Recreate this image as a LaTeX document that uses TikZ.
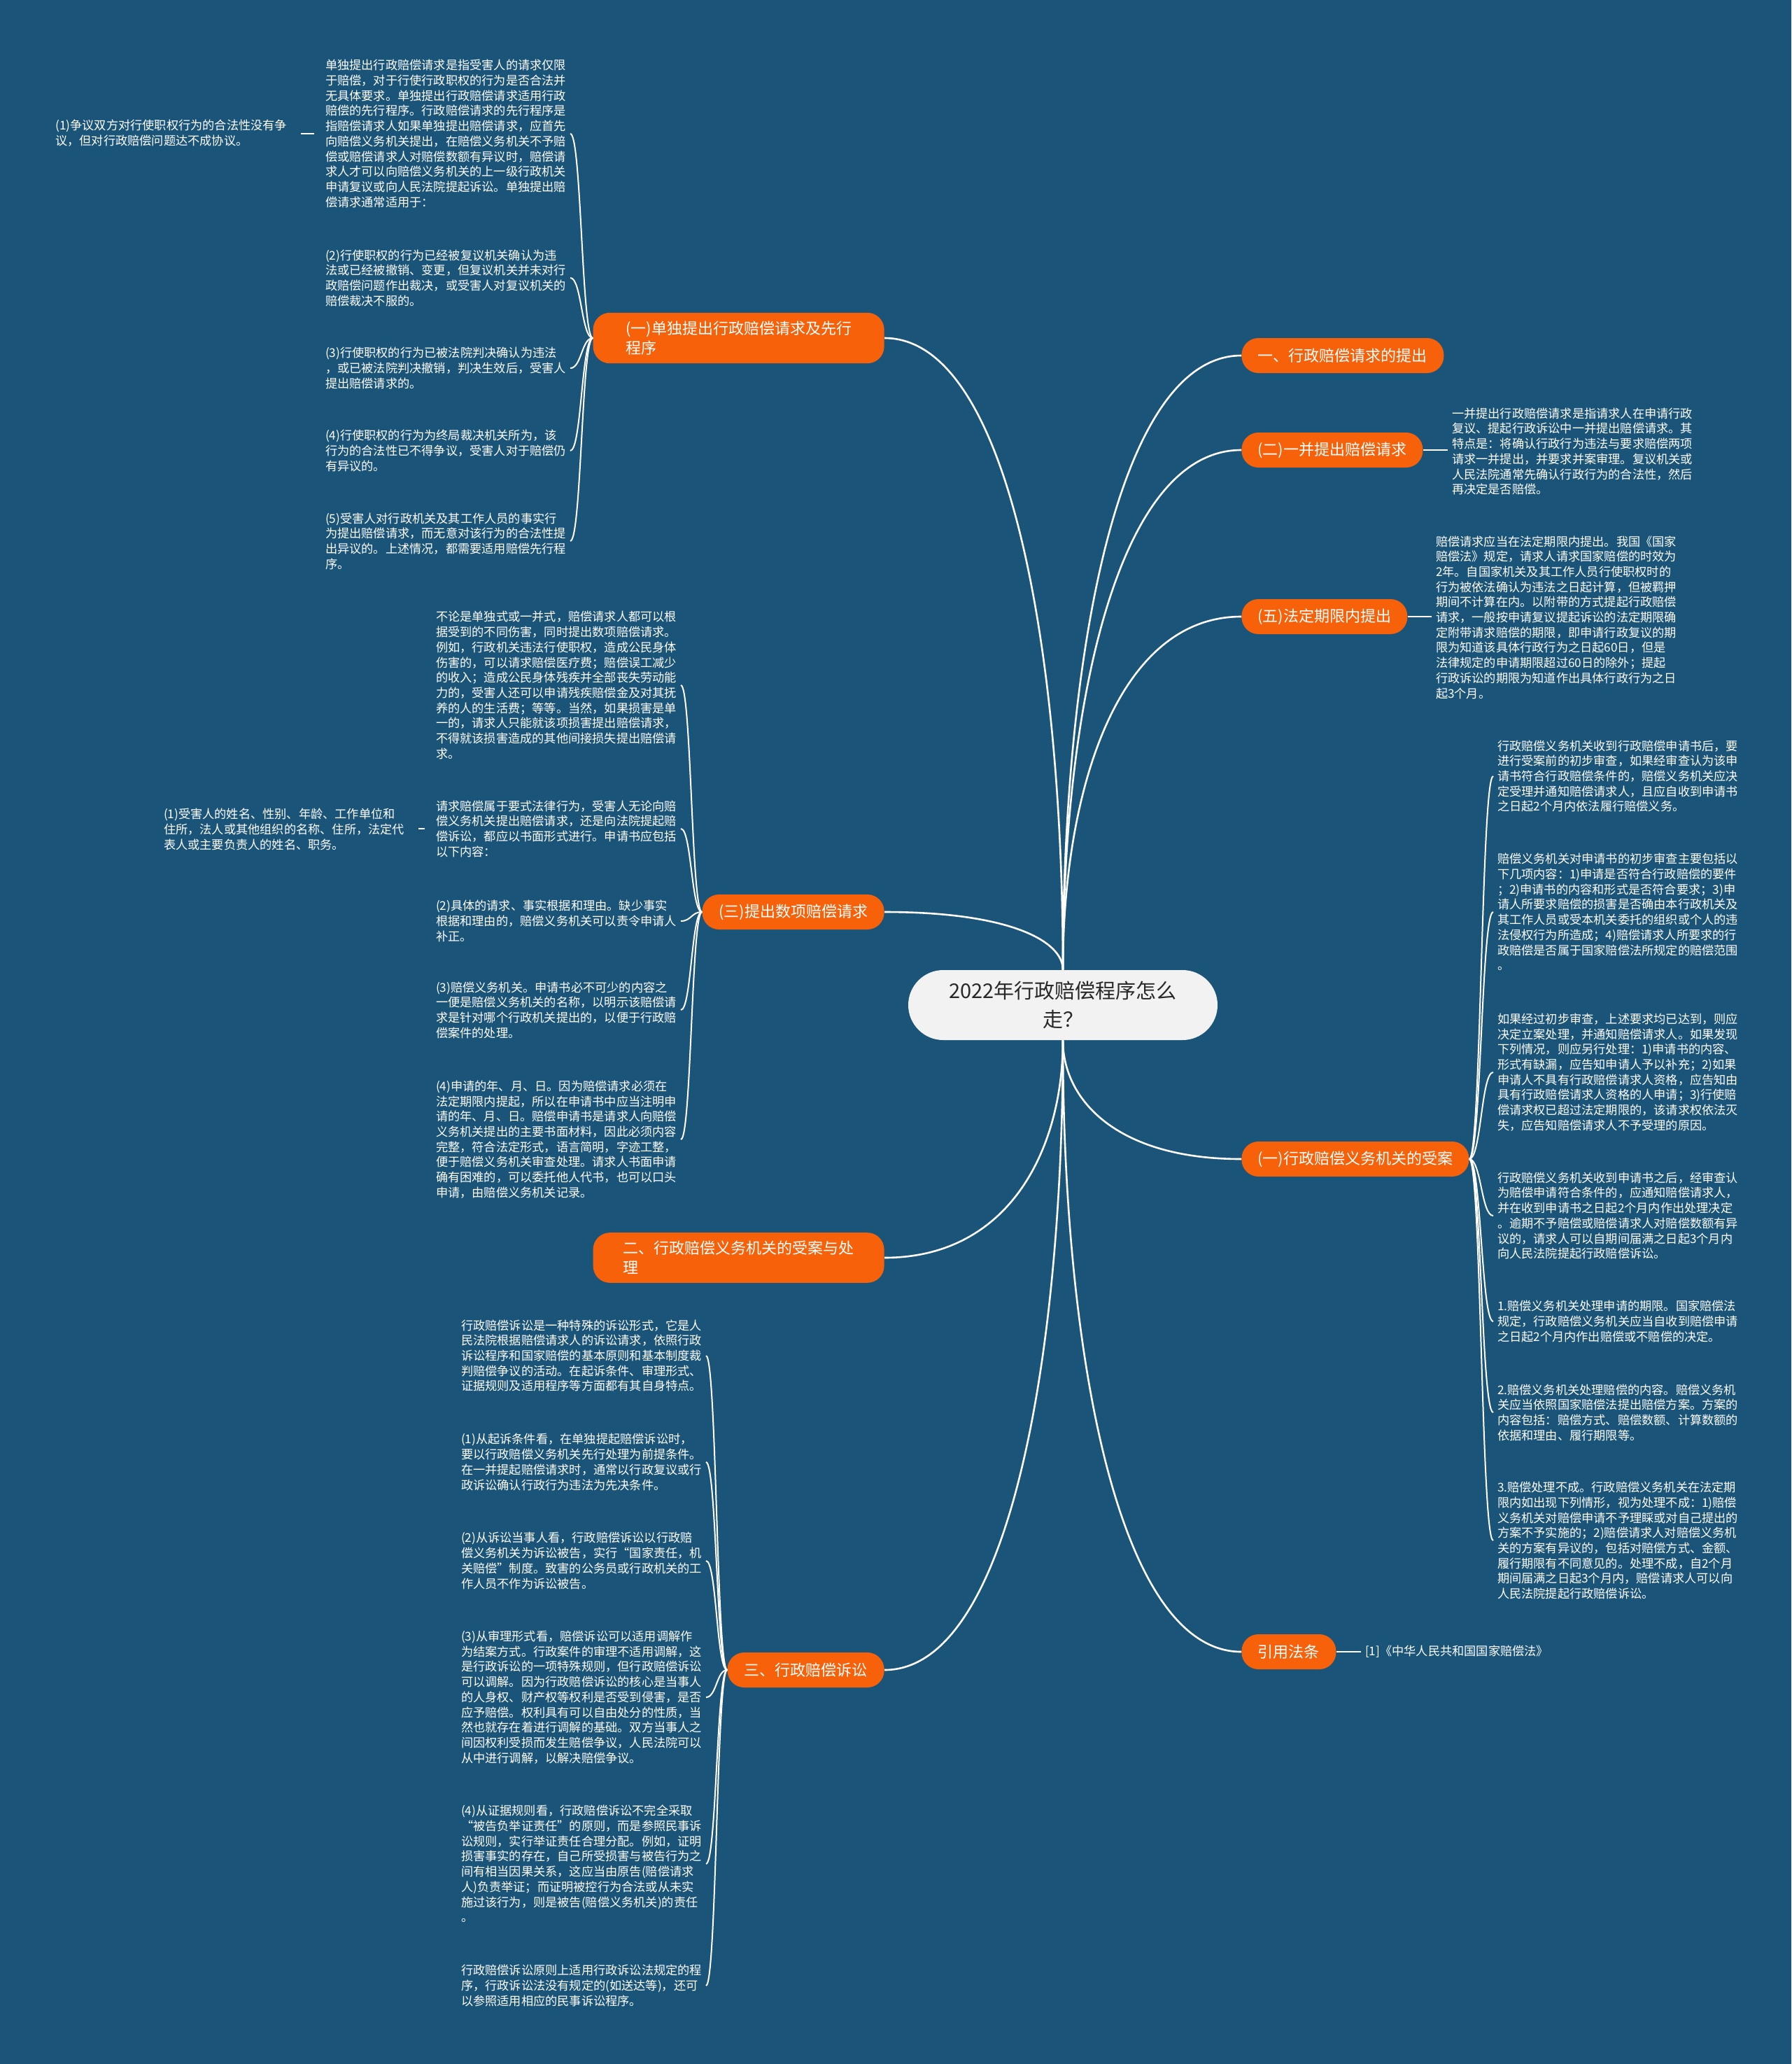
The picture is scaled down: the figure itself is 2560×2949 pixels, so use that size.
\documentclass[tikz,border=0pt]{standalone}
\usepackage{fontspec}
\setmainfont{Noto Sans CJK SC}
\usetikzlibrary{calc}
\definecolor{bgblue}{RGB}{27,84,121}
\definecolor{pillor}{RGB}{246,97,10}
\definecolor{centfill}{RGB}{242,242,242}
\definecolor{centtext}{RGB}{40,40,40}
\newcommand\mainlink[2]{\draw[mainline] let \p1=(#1), \p2=(#2) in (\p1) .. controls (\x1,{0.5*\y1+0.5*\y2}) and ({0.7*\x1+0.3*\x2},\y2) .. (\p2);}
\newcommand\leaflink[2]{\draw[leafline] let \p1=(#1), \p2=(#2) in (\p1) .. controls ({0.5*\x1+0.5*\x2},\y1) and ({0.5*\x1+0.5*\x2},\y2) .. (\p2);}
\begin{document}
\begin{tikzpicture}[x=0.5pt,y=-0.5pt,
  centerbox/.style={fill=centfill, text=centtext, rounded corners=25pt, minimum width=221pt, minimum height=50pt, align=center, inner sep=0pt, font=\fontsize{14.5}{20.5}\selectfont},
  pill/.style={fill=pillor, text=white, rounded corners=12pt, minimum height=25pt, inner xsep=11.5pt, inner ysep=6pt, align=left, font=\fontsize{11}{14}\selectfont},
  pillR/.style={pill, anchor=west},
  pillL/.style={pill, anchor=east},
  leaf/.style={text=white, align=left, inner sep=0pt, outer sep=3pt, font=\fontsize{8.6}{10.85}\selectfont},
  leafR/.style={leaf, anchor=west},
  leafL/.style={leaf, anchor=east},
  mainline/.style={draw=white, line width=1.3pt},
  leafline/.style={draw=white, line width=1pt}]
\useasboundingbox[fill=bgblue] (0,0) rectangle (2560,2949);

% center
\node[centerbox] (c) at (1519,1436) {2022年行政赔偿程序怎么\\走？};

% right pills
\node[pillR, minimum width=144.5pt] (r1) at (1774,508) {一、行政赔偿请求的提出};
\node[pillR, minimum width=129.5pt] (r2) at (1774,643) {(二)一并提出赔偿请求};
\node[pillR, minimum width=117.5pt] (r3) at (1774,881) {(五)法定期限内提出};
\node[pillR, minimum width=161.5pt] (r4) at (1774,1656) {(一)行政赔偿义务机关的受案};
\node[pillR, minimum width=67.5pt] (r5) at (1774,2360) {引用法条};

% left pills
\node[pillL, minimum width=208pt] (l1) at (1264,483) {(一)单独提出行政赔偿请求及先行\\程序};
\node[pillL, minimum width=130pt] (l2) at (1264,1303) {(三)提出数项赔偿请求};
\node[pillL, minimum width=208pt] (l3) at (1264,1797) {二、行政赔偿义务机关的受案与处\\理};
\node[pillL, minimum width=112pt] (l4) at (1264,2386) {三、行政赔偿诉讼};

\mainlink{c.north}{r1.west}
\mainlink{c.north}{r2.west}
\mainlink{c.north}{r3.west}
\mainlink{c.south}{r4.west}
\mainlink{c.south}{r5.west}
\mainlink{c.north}{l1.east}
\mainlink{c.north}{l2.east}
\mainlink{c.south}{l3.east}
\mainlink{c.south}{l4.east}

% (二) leaf
\node[leafR] (r2a) at (2069,645) {一并提出行政赔偿请求是指请求人在申请行政\\复议、提起行政诉讼中一并提出赔偿请求。其\\特点是：将确认行政行为违法与要求赔偿两项\\请求一并提出，并要求并案审理。复议机关或\\人民法院通常先确认行政行为的合法性，然后\\再决定是否赔偿。};
\draw[leafline] (r2.east) -- (r2.east -| r2a.west);

% (五) leaf
\node[leafR] (r3a) at (2046,882) {赔偿请求应当在法定期限内提出。我国《国家\\赔偿法》规定，请求人请求国家赔偿的时效为\\2年。自国家机关及其工作人员行使职权时的\\行为被依法确认为违法之日起计算，但被羁押\\期间不计算在内。以附带的方式提起行政赔偿\\请求，一般按申请复议提起诉讼的法定期限确\\定附带请求赔偿的期限，即申请行政复议的期\\限为知道该具体行政行为之日起60日，但是\\法律规定的申请期限超过60日的除外；提起\\行政诉讼的期限为知道作出具体行政行为之日\\起3个月。};
\draw[leafline] (r3.east) -- (r3.east -| r3a.west);

% (一)受案 leaves
\node[leafR] (ra) at (2134,1109) {行政赔偿义务机关收到行政赔偿申请书后，要\\进行受案前的初步审查，如果经审查认为该申\\请书符合行政赔偿条件的，赔偿义务机关应决\\定受理并通知赔偿请求人，且应自收到申请书\\之日起2个月内依法履行赔偿义务。};
\node[leafR] (rb) at (2134,1303) {赔偿义务机关对申请书的初步审查主要包括以\\下几项内容：1)申请是否符合行政赔偿的要件\\；2)申请书的内容和形式是否符合要求；3)申\\请人所要求赔偿的损害是否确由本行政机关及\\其工作人员或受本机关委托的组织或个人的违\\法侵权行为所造成；4)赔偿请求人所要求的行\\政赔偿是否属于国家赔偿法所规定的赔偿范围\\。};
\node[leafR] (rc) at (2134,1532) {如果经过初步审查，上述要求均已达到，则应\\决定立案处理，并通知赔偿请求人。如果发现\\下列情况，则应另行处理：1)申请书的内容、\\形式有缺漏，应告知申请人予以补充；2)如果\\申请人不具有行政赔偿请求人资格，应告知由\\具有行政赔偿请求人资格的人申请；3)行使赔\\偿请求权已超过法定期限的，该请求权依法灭\\失，应告知赔偿请求人不予受理的原因。};
\node[leafR] (rd) at (2134,1737) {行政赔偿义务机关收到申请书之后，经审查认\\为赔偿申请符合条件的，应通知赔偿请求人，\\并在收到申请书之日起2个月内作出处理决定\\。逾期不予赔偿或赔偿请求人对赔偿数额有异\\议的，请求人可以自期间届满之日起3个月内\\向人民法院提起行政赔偿诉讼。};
\node[leafR] (re) at (2134,1888) {1.赔偿义务机关处理申请的期限。国家赔偿法\\规定，行政赔偿义务机关应当自收到赔偿申请\\之日起2个月内作出赔偿或不赔偿的决定。};
\node[leafR] (rf) at (2134,2018) {2.赔偿义务机关处理赔偿的内容。赔偿义务机\\关应当依照国家赔偿法提出赔偿方案。方案的\\内容包括：赔偿方式、赔偿数额、计算数额的\\依据和理由、履行期限等。};
\node[leafR] (rg) at (2134,2201) {3.赔偿处理不成。行政赔偿义务机关在法定期\\限内如出现下列情形，视为处理不成：1)赔偿\\义务机关对赔偿申请不予理睬或对自己提出的\\方案不予实施的；2)赔偿请求人对赔偿义务机\\关的方案有异议的，包括对赔偿方式、金额、\\履行期限有不同意见的。处理不成，自2个月\\期间届满之日起3个月内，赔偿请求人可以向\\人民法院提起行政赔偿诉讼。};
\leaflink{r4.east}{ra.west}
\leaflink{r4.east}{rb.west}
\leaflink{r4.east}{rc.west}
\leaflink{r4.east}{rd.west}
\leaflink{r4.east}{re.west}
\leaflink{r4.east}{rf.west}
\leaflink{r4.east}{rg.west}

% 引用法条 leaf
\node[leafR] (r5a) at (1945,2360) {[1]《中华人民共和国国家赔偿法》};
\draw[leafline] (r5.east) -- (r5.east -| r5a.west);

% (一)单独 leaves
\node[leafL] (la) at (815,191) {单独提出行政赔偿请求是指受害人的请求仅限\\于赔偿，对于行使行政职权的行为是否合法并\\无具体要求。单独提出行政赔偿请求适用行政\\赔偿的先行程序。行政赔偿请求的先行程序是\\指赔偿请求人如果单独提出赔偿请求，应首先\\向赔偿义务机关提出，在赔偿义务机关不予赔\\偿或赔偿请求人对赔偿数额有异议时，赔偿请\\求人才可以向赔偿义务机关的上一级行政机关\\申请复议或向人民法院提起诉讼。单独提出赔\\偿请求通常适用于：};
\node[leafL] (la1) at (416,190) {(1)争议双方对行使职权行为的合法性没有争\\议，但对行政赔偿问题达不成协议。};
\draw[leafline, shorten <=5pt, shorten >=7pt] (la.west) -- (la.west -| la1.east);
\node[leafL] (lb) at (815,397) {(2)行使职权的行为已经被复议机关确认为违\\法或已经被撤销、变更，但复议机关并未对行\\政赔偿问题作出裁决，或受害人对复议机关的\\赔偿裁决不服的。};
\node[leafL] (lc) at (815,526) {(3)行使职权的行为已被法院判决确认为违法\\，或已被法院判决撤销，判决生效后，受害人\\提出赔偿请求的。};
\node[leafL] (ld) at (815,644) {(4)行使职权的行为为终局裁决机关所为，该\\行为的合法性已不得争议，受害人对于赔偿仍\\有异议的。};
\node[leafL] (le) at (815,773) {(5)受害人对行政机关及其工作人员的事实行\\为提出赔偿请求，而无意对该行为的合法性提\\出异议的。上述情况，都需要适用赔偿先行程\\序。};
\leaflink{l1.west}{la.east}
\leaflink{l1.west}{lb.east}
\leaflink{l1.west}{lc.east}
\leaflink{l1.west}{ld.east}
\leaflink{l1.west}{le.east}

% (三) leaves
\node[leafL] (ma) at (973,979) {不论是单独式或一并式，赔偿请求人都可以根\\据受到的不同伤害，同时提出数项赔偿请求。\\例如，行政机关违法行使职权，造成公民身体\\伤害的，可以请求赔偿医疗费；赔偿误工减少\\的收入；造成公民身体残疾并全部丧失劳动能\\力的，受害人还可以申请残疾赔偿金及对其抚\\养的人的生活费；等等。当然，如果损害是单\\一的，请求人只能就该项损害提出赔偿请求，\\不得就该损害造成的其他间接损失提出赔偿请\\求。};
\node[leafL] (mb) at (973,1184) {请求赔偿属于要式法律行为，受害人无论向赔\\偿义务机关提出赔偿请求，还是向法院提起赔\\偿诉讼，都应以书面形式进行。申请书应包括\\以下内容：};
\node[leafL] (mb1) at (584,1185) {(1)受害人的姓名、性别、年龄、工作单位和\\住所，法人或其他组织的名称、住所，法定代\\表人或主要负责人的姓名、职务。};
\draw[leafline, shorten <=5pt, shorten >=7pt] (mb.west) -- (mb.west -| mb1.east);
\node[leafL] (mc) at (973,1316) {(2)具体的请求、事实根据和理由。缺少事实\\根据和理由的，赔偿义务机关可以责令申请人\\补正。};
\node[leafL] (md) at (973,1443) {(3)赔偿义务机关。申请书必不可少的内容之\\一便是赔偿义务机关的名称，以明示该赔偿请\\求是针对哪个行政机关提出的，以便于行政赔\\偿案件的处理。};
\node[leafL] (me) at (973,1628) {(4)申请的年、月、日。因为赔偿请求必须在\\法定期限内提起，所以在申请书中应当注明申\\请的年、月、日。赔偿申请书是请求人向赔偿\\义务机关提出的主要书面材料，因此必须内容\\完整，符合法定形式，语言简明，字迹工整，\\便于赔偿义务机关审查处理。请求人书面申请\\确有困难的，可以委托他人代书，也可以口头\\申请，由赔偿义务机关记录。};
\leaflink{l2.west}{ma.east}
\leaflink{l2.west}{mb.east}
\leaflink{l2.west}{mc.east}
\leaflink{l2.west}{md.east}
\leaflink{l2.west}{me.east}

% 三、 leaves
\node[leafL] (na) at (1009,1937) {行政赔偿诉讼是一种特殊的诉讼形式，它是人\\民法院根据赔偿请求人的诉讼请求，依照行政\\诉讼程序和国家赔偿的基本原则和基本制度裁\\判赔偿争议的活动。在起诉条件、审理形式、\\证据规则及适用程序等方面都有其自身特点。};
\node[leafL] (nb) at (1009,2089) {(1)从起诉条件看，在单独提起赔偿诉讼时，\\要以行政赔偿义务机关先行处理为前提条件。\\在一并提起赔偿请求时，通常以行政复议或行\\政诉讼确认行政行为违法为先决条件。};
\node[leafL] (nc) at (1009,2230) {(2)从诉讼当事人看，行政赔偿诉讼以行政赔\\偿义务机关为诉讼被告，实行“国家责任，机\\关赔偿”制度。致害的公务员或行政机关的工\\作人员不作为诉讼被告。};
\node[leafL] (nd) at (1009,2425) {(3)从审理形式看，赔偿诉讼可以适用调解作\\为结案方式。行政案件的审理不适用调解，这\\是行政诉讼的一项特殊规则，但行政赔偿诉讼\\可以调解。因为行政赔偿诉讼的核心是当事人\\的人身权、财产权等权利是否受到侵害，是否\\应予赔偿。权利具有可以自由处分的性质，当\\然也就存在着进行调解的基础。双方当事人之\\间因权利受损而发生赔偿争议，人民法院可以\\从中进行调解，以解决赔偿争议。};
\node[leafL] (ne) at (1009,2663) {(4)从证据规则看，行政赔偿诉讼不完全采取\\“被告负举证责任”的原则，而是参照民事诉\\讼规则，实行举证责任合理分配。例如，证明\\损害事实的存在，自己所受损害与被告行为之\\间有相当因果关系，这应当由原告(赔偿请求\\人)负责举证；而证明被控行为合法或从未实\\施过该行为，则是被告(赔偿义务机关)的责任\\。};
\node[leafL] (nf) at (1009,2837) {行政赔偿诉讼原则上适用行政诉讼法规定的程\\序，行政诉讼法没有规定的(如送达等)，还可\\以参照适用相应的民事诉讼程序。};
\leaflink{l4.west}{na.east}
\leaflink{l4.west}{nb.east}
\leaflink{l4.west}{nc.east}
\leaflink{l4.west}{nd.east}
\leaflink{l4.west}{ne.east}
\leaflink{l4.west}{nf.east}
\end{tikzpicture}
\end{document}
